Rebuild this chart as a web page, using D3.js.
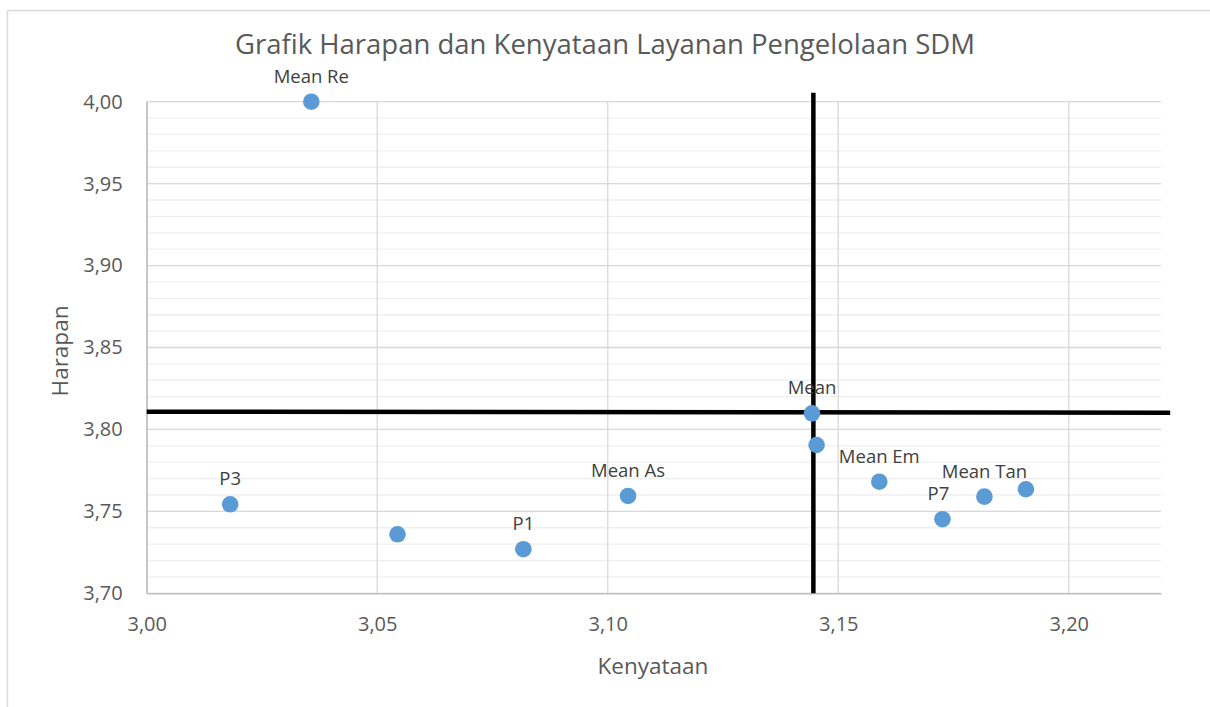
<!DOCTYPE html>
<html>
<head>
<meta charset="utf-8">
<script src="https://cdn.jsdelivr.net/npm/d3@7"></script>
<style>
  body { margin: 0; background: #fff; }
  svg { display: block; font-family: "Open Sans", sans-serif; }
</style>
</head>
<body>
<svg id="chart"></svg>
<script>
// data
const pointNames = ["Mean Re", "P3", "", "P1", "Mean As", "Mean", "", "Mean Em", "P7", "Mean Tan", ""];
const kenyataan = [3.0357, 3.0181, 3.0544, 3.0817, 3.1044, 3.1443, 3.1453, 3.1589, 3.1726, 3.1817, 3.1907];
const harapan   = [4.0000, 3.7543, 3.7360, 3.7269, 3.7594, 3.8098, 3.7905, 3.7681, 3.7452, 3.7590, 3.7635];

// the two black mean lines
const vLineX = [3.1446, 3.1446];
const vLineY = [4.0055, 3.70];
const hLineX = [3.00, 3.222];
const hLineY = [3.8108, 3.8102];

const xTicks = [3.00, 3.05, 3.10, 3.15, 3.20];
const yTicks = [3.70, 3.75, 3.80, 3.85, 3.90, 3.95, 4.00];
const yMinorTicks = d3.range(3.70, 4.0001, 0.01);

const W = 1210, H = 707;
const margin = { left: 146.7, right: 1161, top: 101.7, bottom: 593.3 };

const svg = d3.select("#chart").attr("width", W).attr("height", H);

// outer chart frame (only top and left visible)
svg.append("line").attr("x1", 7.5).attr("x2", W).attr("y1", 10.5).attr("y2", 10.5)
    .attr("stroke", "#d9d9d9").attr("stroke-width", 1.5);
svg.append("line").attr("x1", 7.5).attr("x2", 7.5).attr("y1", 10.5).attr("y2", H)
    .attr("stroke", "#d9d9d9").attr("stroke-width", 1.5);

const x = d3.scaleLinear().domain([3.00, 3.22]).range([margin.left, margin.right]);
const y = d3.scaleLinear().domain([3.70, 4.00]).range([margin.bottom, margin.top]);

// gridlines ----------
const grid = svg.append("g");
grid.selectAll(".minor").data(yMinorTicks).enter().append("line")
    .attr("x1", margin.left).attr("x2", margin.right)
    .attr("y1", d => y(d)).attr("y2", d => y(d))
    .attr("stroke", "#efefef").attr("stroke-width", 1.3);
grid.selectAll(".majorY").data(yTicks).enter().append("line")
    .attr("x1", margin.left).attr("x2", margin.right)
    .attr("y1", d => y(d)).attr("y2", d => y(d))
    .attr("stroke", "#d9d9d9").attr("stroke-width", 1.3);
grid.selectAll(".majorX").data(xTicks).enter().append("line")
    .attr("x1", d => x(d)).attr("x2", d => x(d))
    .attr("y1", margin.top).attr("y2", margin.bottom)
    .attr("stroke", "#d9d9d9").attr("stroke-width", 1.3);

// axes ----------
const fmt = d => d3.format(".2f")(d).replace(".", ",");

const xAxis = svg.append("g")
    .attr("transform", `translate(0,${margin.bottom})`)
    .call(d3.axisBottom(x).tickValues(xTicks).tickFormat(fmt).tickSize(0).tickPadding(24));
const yAxis = svg.append("g")
    .attr("transform", `translate(${margin.left},0)`)
    .call(d3.axisLeft(y).tickValues(yTicks).tickFormat(fmt).tickSize(0).tickPadding(24));

[xAxis, yAxis].forEach(a => {
    a.select(".domain").attr("stroke", "#bfbfbf").attr("stroke-width", 1.5);
    a.selectAll("text").attr("fill", "#595959").style("font-size", "20px")
        .style("font-family", "'Open Sans', sans-serif");
});

// black mean lines ----------
const line = d3.line().x(d => x(d[0])).y(d => y(d[1]));
svg.append("path").datum(d3.zip(vLineX, vLineY)).attr("d", line)
    .attr("fill", "none").attr("stroke", "#000").attr("stroke-width", 4.5);
svg.append("path").datum(d3.zip(hLineX, hLineY)).attr("d", line)
    .attr("fill", "none").attr("stroke", "#000").attr("stroke-width", 4.5);

// points ----------
const pts = d3.zip(kenyataan, harapan, pointNames);
svg.selectAll(".pt").data(pts).enter().append("circle")
    .attr("cx", d => x(d[0])).attr("cy", d => y(d[1])).attr("r", 8.3)
    .attr("fill", "#5b9bd5");

// data labels above the points (P7 nudged left so it clears "Mean Tan")
svg.selectAll(".lbl").data(pts.filter(d => d[2] !== "")).enter().append("text")
    .attr("x", d => x(d[0]) - (d[2] === "P7" ? 4 : 0)).attr("y", d => y(d[1]) - 19)
    .attr("text-anchor", "middle")
    .attr("fill", "#404040").style("font-size", "18.5px")
    .text(d => d[2]);

// titles ----------
svg.append("text").attr("x", 605).attr("y", 54).attr("text-anchor", "middle")
    .attr("fill", "#595959").style("font-size", "27.5px")
    .text("Grafik Harapan dan Kenyataan Layanan Pengelolaan SDM");

svg.append("text").attr("x", 653).attr("y", 674).attr("text-anchor", "middle")
    .attr("fill", "#595959").style("font-size", "22.5px")
    .text("Kenyataan");

svg.append("text").attr("transform", "translate(68,351) rotate(-90)")
    .attr("text-anchor", "middle")
    .attr("fill", "#595959").style("font-size", "22.5px")
    .text("Harapan");
</script>
</body>
</html>
